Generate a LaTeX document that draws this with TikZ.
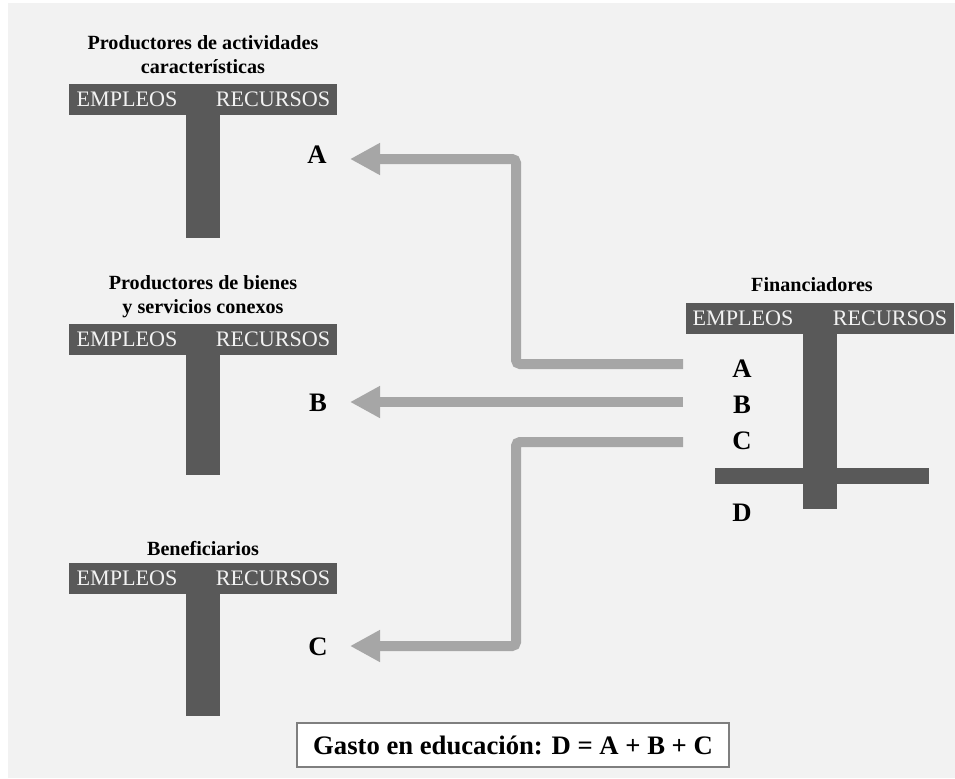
\documentclass[tikz,border=0pt]{standalone}
\usepackage{fontspec}
\setmainfont{Liberation Serif}
\usetikzlibrary{arrows.meta}
\definecolor{fondo}{HTML}{F2F2F2}
\definecolor{oscuro}{HTML}{595959}
\definecolor{flecha}{HTML}{A6A6A6}
\definecolor{borde}{HTML}{7F7F7F}

\begin{document}
\begin{tikzpicture}[x=0.75pt, y=-0.75pt,
  cabecera/.style={fill=oscuro, inner sep=0pt, minimum width=201pt, minimum height=23.25pt},
  cuenta/.style={text=fondo, font=\fontsize{16.6}{19}\selectfont, inner sep=0pt},
  titulo/.style={font=\fontsize{15.1}{17.3}\selectfont\bfseries, align=center, inner sep=0pt, anchor=base},
  letra/.style={font=\fontsize{20}{24}\selectfont\bfseries, inner sep=0pt, anchor=base},
  flujo/.style={draw=flecha, line width=7.5pt, rounded corners=3pt,
    -{Triangle[length=22.5pt, width=22.5pt]}}]

  % Fondo
  \fill[white] (0,0) rectangle (955,778);
  \fill[fondo] (8,3) rectangle (955,778);
  \useasboundingbox (0,0) rectangle (955,778);

  % Cuentas de productores y beneficiarios
  \foreach \n/\y/\fin/\ty/\tit in {
      act/99.5/238/73/{Productores de actividades\\características},
      bie/339.5/475/313/{Productores de bienes\\y servicios conexos},
      ben/578/716/555/{Beneficiarios}} {
    \node[cabecera] (\n-head) at (203,\y) {};
    \fill[oscuro] (186,{\y+15.5}) rectangle (220,\fin);
    \node[cuenta] (\n-emp) at (127,\y) {EMPLEOS};
    \node[cuenta] (\n-rec) at (273,\y) {RECURSOS};
    \node[titulo] (\n-tit) at (203,\ty) {\tit};
  }

  % Cuenta de financiadores
  \node[cabecera] (fin-head) at (820,318) {};
  \fill[oscuro] (803,333) rectangle (837,509);
  \fill[oscuro] (715,468) rectangle (929,484);
  \node[cuenta] (fin-emp) at (743,318) {EMPLEOS};
  \node[cuenta] (fin-rec) at (890,318) {RECURSOS};
  \node[titulo] (fin-tit) at (812,291) {Financiadores};

  % Letras
  \node[letra] (finA) at (742,377) {A};
  \node[letra] (finB) at (742,413) {B};
  \node[letra] (finC) at (742,449) {C};
  \node[letra] (finD) at (742,521) {D};
  \node[letra] (actA) at (317,163) {A};
  \node[letra] (bieB) at (318,411) {B};
  \node[letra] (benC) at (318,655) {C};

  % Flujos
  \coordinate (salA) at (683,364);
  \coordinate (salB) at (683,402);
  \coordinate (salC) at (683,442);
  \coordinate (codoA) at (516,159);
  \coordinate (codoC) at (516,646);
  \coordinate (puntaA) at (350,159);
  \coordinate (puntaB) at (350,402);
  \coordinate (puntaC) at (350,646);
  \draw[flujo] (salA) -| (codoA) -- (puntaA);
  \draw[flujo] (salB) -- (puntaB);
  \draw[flujo] (salC) -| (codoC) -- (puntaC);

  % Gasto total
  \node[draw=borde, fill=white, line width=0.9pt, minimum width=324pt, minimum height=33pt,
    font=\fontsize{20}{24}\selectfont\bfseries] (gasto) at (513,745)
    {Gasto en educación: D = A + B + C};
\end{tikzpicture}
\end{document}
